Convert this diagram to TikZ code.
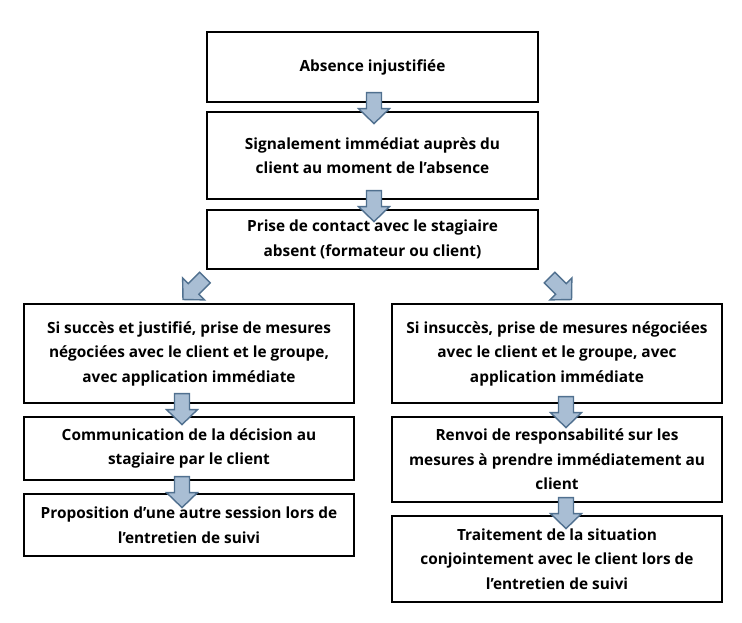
\documentclass[tikz,border=0pt]{standalone}
\usepackage{fontspec}
\setmainfont{Open Sans}
\usetikzlibrary{calc}
\definecolor{arrowfill}{RGB}{169,190,212}
\definecolor{arrowline}{RGB}{80,112,143}
\tikzset{
  box/.style={draw=black, line width=1.2pt, minimum width=331pt, align=center,
    font=\bfseries\fontsize{15.4}{24.5}\selectfont, inner sep=0pt},
  barrow/.style={fill=arrowfill, draw=arrowline, line width=1.4pt, line join=miter},
}
\newcommand{\blockarrow}[2]{\draw[barrow, shift={#1}, rotate=#2] (-7.5,0) -- (-7.5,16) -- (-15.5,16) -- (0,31) -- (15.5,16) -- (7.5,16) -- (7.5,0) -- cycle;}
\begin{document}
\begin{tikzpicture}[x=1pt,y=-1pt]
\useasboundingbox (0,0) rectangle (742,622);
\node[box, minimum height=70pt] (b1) at (372.5,67) {Absence injustifiée};
\node[box, minimum height=87pt] (b2) at (372.5,155.5) {Signalement immédiat auprès du\\client au moment de l’absence};
\node[box, minimum height=59pt] (b3) at (372.5,239.5) {Prise de contact avec le stagiaire\\absent (formateur ou client)};
\node[box, minimum width=330pt, minimum height=99pt] (la) at (189,353.5) {Si succès et justifié, prise de mesures\\négociées avec le client et le groupe,\\avec application immédiate};
\node[box, minimum width=330pt, minimum height=63pt] (lb) at (189,448.5) {Communication de la décision au\\stagiaire par le client};
\node[box, minimum width=330pt, minimum height=62pt] (lc) at (189,525) {Proposition d’une autre session lors de\\l’entretien de suivi};
\node[box, minimum width=330pt, minimum height=99pt] (ra) at (557,353.5) {Si insuccès, prise de mesures négociées\\avec le client et le groupe, avec\\application immédiate};
\node[box, minimum width=330pt, minimum height=85pt] (rb) at (557,459.5) {Renvoi de responsabilité sur les\\mesures à prendre immédiatement au\\client};
\node[box, minimum width=330pt, minimum height=86pt] (rc) at (557,559) {Traitement de la situation\\conjointement avec le client lors de\\l’entretien de suivi};
\blockarrow{($(b1.south)+(1.5,-10)$)}{0}
\blockarrow{($(b2.south)+(1.5,-9)$)}{0}
\blockarrow{($(b3.south west)+(-1.5,8)$)}{-45}
\blockarrow{($(b3.south east)+(11,8)$)}{45}
\blockarrow{($(la.south)+(-7,-10)$)}{0}
\blockarrow{($(lb.south)+(-7,-4)$)}{0}
\blockarrow{($(ra.south)+(9,-7)$)}{0}
\blockarrow{($(rb.south)+(9,-5)$)}{0}
\end{tikzpicture}
\end{document}
